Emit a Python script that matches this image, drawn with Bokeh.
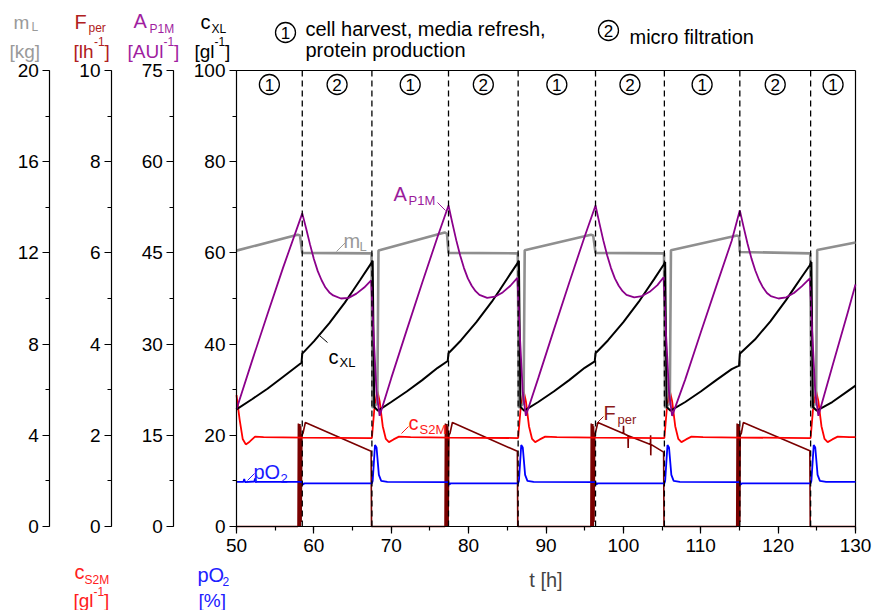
from bokeh.plotting import figure
from bokeh.models import Range1d, LinearAxis, SingleIntervalTicker, Label
from bokeh.embed import file_html
from bokeh.resources import INLINE
from bokeh.core.properties import value

FONT = "Liberation Sans"

# ---------------- data ----------------
filtration_start = [58.5, 77.4, 96.4, 115.05]   # end of phase 1
harvest = [67.5, 86.4, 105.3, 124.2]            # end of phase 2
phase_names = ["1", "2", "1", "2", "1", "2", "1", "2", "1"]
legend_names = ["1", "2"]
legend_texts = [["cell harvest, media refresh,", "protein production"], ["micro filtration"]]

# c_XL [g/l]
cxl_points = [(50.0, 25.7), (52.0, 27.9), (54.0, 30.2), (56.0, 32.8), (58.4, 35.9), (58.5, 37.9),
              (60.0, 40.6), (62.0, 44.6), (64.0, 49.1), (65.0, 51.6), (66.0, 54.1), (67.4, 57.7),
              (67.6, 58.3), (67.8, 26.2), (68.3, 25.4), (70.0, 27.3), (72.0, 29.6), (74.0, 32.1),
              (76.0, 34.8), (77.3, 36.3), (77.4, 38.0), (79.0, 40.8), (81.0, 44.8), (83.0, 49.3),
              (84.0, 51.8), (85.0, 54.4), (86.3, 57.7), (86.5, 58.3), (86.7, 26.2), (87.2, 25.4),
              (89.0, 27.3), (91.0, 29.6), (93.0, 32.1), (95.0, 34.8), (96.3, 36.2), (96.4, 38.0),
              (98.0, 40.8), (100.0, 44.8), (102.0, 49.3), (103.0, 51.8), (104.0, 54.3), (105.2, 57.4),
              (105.4, 58.0), (105.6, 26.2), (106.1, 25.4), (108.0, 27.3), (110.0, 29.6), (112.0, 32.1),
              (114.0, 34.5), (114.95, 35.3), (115.05, 37.9), (117.0, 41.0), (119.0, 45.0), (121.0, 49.6),
              (122.0, 52.1), (123.0, 54.6), (124.1, 57.3), (124.3, 58.0), (124.5, 26.2), (125.0, 25.4),
              (127.0, 27.3), (129.0, 29.7), (130.0, 30.9)]

# A_P1M [AU/l]
a_points = [(50.0, 19.3), (52.0, 27.2), (54.0, 34.9), (56.0, 42.5), (58.5, 51.5),
            (59.0, 49.0), (59.5, 46.4), (60.0, 44.0), (60.5, 42.0), (61.0, 40.5), (61.5, 39.3),
            (62.0, 38.5), (62.5, 38.0), (63.5, 37.5), (64.5, 37.6), (65.5, 38.3), (66.5, 39.3),
            (67.4, 40.5), (67.7, 32.0), (68.1, 22.0), (68.5, 18.2),
            (70.0, 24.4), (72.0, 32.3), (74.0, 40.1), (76.0, 47.7), (77.4, 52.8),
            (77.9, 49.9), (78.4, 47.1), (78.9, 44.6), (79.4, 42.5), (79.9, 40.8), (80.4, 39.6),
            (80.9, 38.7), (81.4, 38.1), (82.4, 37.6), (83.4, 37.8), (84.4, 38.5), (85.4, 39.6),
            (86.3, 40.9), (86.6, 32.0), (87.0, 22.0), (87.4, 18.2),
            (89.0, 24.4), (91.0, 32.3), (93.0, 40.1), (95.0, 47.7), (96.4, 52.8),
            (96.9, 49.9), (97.4, 47.1), (97.9, 44.6), (98.4, 42.5), (98.9, 40.8), (99.4, 39.6),
            (99.9, 38.7), (100.4, 38.1), (101.4, 37.7), (102.4, 37.9), (103.4, 38.6), (104.4, 39.7),
            (105.2, 41.0), (105.5, 32.0), (105.9, 22.0), (106.3, 18.2),
            (108.0, 24.2), (110.0, 31.9), (112.0, 39.5), (114.0, 47.0), (115.05, 52.0),
            (115.55, 49.2), (116.05, 46.5), (116.55, 44.1), (117.05, 42.1), (117.55, 40.5),
            (118.05, 39.3), (118.55, 38.4), (119.05, 37.9), (120.05, 37.5), (121.05, 37.7),
            (122.05, 38.4), (123.05, 39.5), (124.1, 40.8), (124.4, 32.0), (124.8, 22.0), (125.2, 18.2),
            (127.0, 26.3), (129.0, 35.2), (130.0, 39.8)]

# m_L [kg]
ml_points = [(50.0, 12.1), (57.9, 12.8), (58.2, 12.76), (58.5, 12.0), (67.45, 11.98), (67.6, 5.2),
             (68.2, 5.4), (68.35, 12.1), (76.9, 12.9), (77.2, 12.84), (77.4, 12.0), (86.35, 11.98),
             (86.5, 5.2), (87.1, 5.4), (87.25, 12.12), (95.8, 12.8), (96.1, 12.76), (96.4, 12.0),
             (105.25, 11.98), (105.4, 5.2), (106.0, 5.4), (106.15, 12.12), (114.7, 12.76),
             (114.95, 12.72), (115.05, 12.04), (124.15, 11.98), (124.3, 5.2), (124.9, 5.4),
             (125.05, 12.13), (130.0, 12.46)]

# c_S2M [g/l]
cs_points = [(50.0, 2.88), (50.4, 2.35), (50.8, 1.92), (51.2, 1.80), (51.7, 1.86), (52.4, 1.97),
             (53.5, 1.96), (58.5, 1.95), (67.5, 1.94), (67.8, 2.55), (68.2, 2.98), (68.5, 2.75),
             (68.9, 2.20), (69.3, 1.92), (69.7, 1.85), (70.3, 1.91), (71.0, 1.97), (72.5, 1.96),
             (77.4, 1.95), (86.4, 1.94), (86.7, 2.55), (87.1, 2.98), (87.4, 2.75), (87.8, 2.20),
             (88.2, 1.92), (88.6, 1.85), (89.2, 1.91), (89.9, 1.97), (91.4, 1.96), (96.4, 1.95),
             (105.3, 1.94), (105.6, 2.55), (106.0, 2.98), (106.3, 2.75), (106.7, 2.20), (107.1, 1.92),
             (107.5, 1.85), (108.1, 1.91), (108.8, 1.97), (110.3, 1.96), (115.05, 1.95), (124.2, 1.94),
             (124.5, 2.55), (124.9, 2.98), (125.2, 2.75), (125.6, 2.20), (126.0, 1.92), (126.4, 1.85),
             (127.0, 1.91), (127.7, 1.97), (129.2, 1.96), (130.0, 1.96)]

# pO2 [%]
po2_points = [(50.0, 7.35), (50.9, 7.35), (51.0, 7.8), (51.1, 7.3), (52.3, 7.4), (52.4, 7.9),
              (52.5, 7.35), (58.45, 7.35), (58.6, 6.9), (58.8, 7.1), (67.5, 7.1), (67.6, 7.5),
              (67.9, 13.4), (68.1, 13.0), (68.4, 8.5), (68.7, 7.5), (69.5, 7.35), (77.4, 7.3),
              (77.5, 6.9), (77.7, 7.1), (86.4, 7.1), (86.5, 7.5), (86.8, 13.4), (87.0, 13.0),
              (87.3, 8.5), (87.6, 7.5), (88.4, 7.35), (96.4, 7.3), (96.5, 6.9), (96.7, 7.1),
              (105.3, 7.1), (105.4, 7.5), (105.7, 13.4), (105.9, 13.0), (106.2, 8.5), (106.5, 7.5),
              (107.3, 7.35), (115.05, 7.3), (115.15, 6.9), (115.35, 7.1), (124.2, 7.1), (124.3, 7.5),
              (124.6, 13.4), (124.8, 13.0), (125.1, 8.5), (125.4, 7.5), (126.2, 7.35), (130.0, 7.35)]

# F_per [l/h]
f_points = [(50.0, 0.0), (57.95, 0.0), (58.0, 2.26), (58.05, 0.0), (58.1, 2.22), (58.15, 0.0),
            (58.2, 2.25), (58.25, 0.0), (58.3, 2.20), (58.35, 0.1), (58.45, 2.0), (58.6, 2.05),
            (58.9, 2.28), (67.4, 1.65), (67.45, 0.0), (76.95, 0.0), (77.0, 2.26), (77.05, 0.0),
            (77.1, 2.22), (77.15, 0.0), (77.2, 2.25), (77.25, 0.0), (77.3, 2.20), (77.35, 0.1),
            (77.45, 2.0), (77.6, 2.05), (77.9, 2.28), (86.3, 1.65), (86.35, 0.0), (95.8, 0.0),
            (95.85, 2.26), (95.9, 0.0), (95.95, 2.22), (96.0, 0.0), (96.05, 2.25), (96.1, 0.0),
            (96.15, 2.20), (96.2, 0.1), (96.3, 2.0), (96.45, 2.1), (96.7, 2.28), (100.0, 2.04),
            (100.02, 2.21), (100.04, 2.04), (100.6, 1.99), (100.62, 1.72), (100.64, 1.99),
            (103.5, 1.80), (103.52, 2.0), (103.54, 1.56), (103.56, 1.80), (105.2, 1.63),
            (105.25, 0.0), (114.65, 0.0), (114.7, 2.26), (114.75, 0.0), (114.8, 2.22), (114.85, 0.0),
            (114.9, 2.25), (114.95, 0.0), (115.0, 2.20), (115.05, 0.1), (115.1, 2.0), (115.25, 2.05),
            (115.5, 2.28), (124.1, 1.66), (124.15, 0.0), (130.0, 0.0)]

# axis ranges / tick intervals
t_range = (50, 130)
cxl_range, cxl_step = (0, 100), 20
ml_range, ml_step = (0, 20), 4
f_range, f_step = (0, 10), 2
a_range, a_step = (0, 75), 15
t_step = 10

# ---------------- geometry (page pixels) ----------------
W, H = 873, 610
FX0, FX1, FY0, FY1 = 236, 855, 526, 70   # data area left/right/bottom/top
AXIS_PX = {"mL": 49.3, "F": 111.0, "A": 173.3}


def tx(px):
    return t_range[0] + (px - FX0) * (t_range[1] - t_range[0]) / (FX1 - FX0)


def cy(py):
    return cxl_range[0] + (FY0 - py) * (cxl_range[1] - cxl_range[0]) / (FY0 - FY1)


def scaled(rng):
    k = rng[1] / cxl_range[1]
    return Range1d(cy(H) * k, cy(0) * k)


p = figure(width=W, height=H, x_range=Range1d(tx(0), tx(W)), y_range=Range1d(cy(H), cy(0)),
           output_backend="svg", toolbar_location=None, min_border=0)
p.extra_y_ranges = {"mL": scaled(ml_range), "F": scaled(f_range), "A": scaled(a_range)}
p.grid.visible = False
p.outline_line_color = None
p.background_fill_color = "white"
p.border_fill_color = "white"


def style_axis(ax, step, bounds):
    ax.ticker = SingleIntervalTicker(interval=step, num_minor_ticks=2)
    ax.bounds = bounds
    ax.major_tick_out = 7
    ax.major_tick_in = 0
    ax.minor_tick_out = 4
    ax.minor_tick_in = 0
    ax.axis_line_color = "black"
    ax.axis_line_width = 1.2
    ax.major_tick_line_color = "black"
    ax.major_tick_line_width = 1.2
    ax.minor_tick_line_color = "black"
    ax.minor_tick_line_width = 1.2
    ax.major_label_text_font = FONT
    ax.major_label_text_font_size = "19px"
    ax.major_label_text_color = "black"
    ax.major_label_standoff = 4


yc_ax = p.yaxis[0]
style_axis(yc_ax, cxl_step, cxl_range)
yc_ax.fixed_location = t_range[0]
for name, rng, step in [("A", a_range, a_step), ("F", f_range, f_step), ("mL", ml_range, ml_step)]:
    ax = LinearAxis(y_range_name=name)
    style_axis(ax, step, rng)
    ax.fixed_location = tx(AXIS_PX[name])
    p.add_layout(ax, "left")

xa = p.xaxis[0]
style_axis(xa, t_step, t_range)
xa.fixed_location = cxl_range[0]
xa.major_label_standoff = 5
xa.axis_label = "t [h]"
xa.axis_label_text_font = FONT
xa.axis_label_text_font_size = "20px"
xa.axis_label_text_font_style = "normal"
xa.axis_label_standoff = 14

# frame lines: top and right
p.segment(x0=[t_range[0], t_range[1]], y0=[cxl_range[1], cxl_range[0]],
          x1=[t_range[1], t_range[1]], y1=[cxl_range[1], cxl_range[1]],
          line_color="black", line_width=1.2)

# ---------------- data lines ----------------
def unzip(pts):
    return [a for a, _ in pts], [b for _, b in pts]


tf, vf = unzip(f_points)
p.line(tf, vf, line_color="#7a0000", line_width=1.6, y_range_name="F")
tp, vp = unzip(po2_points)
p.line(tp, vp, line_color="#0000ff", line_width=1.8, y_range_name="A")
ts, vs = unzip(cs_points)
p.line(ts, vs, line_color="#ff0000", line_width=1.8, y_range_name="F")
tm, vm = unzip(ml_points)
p.line(tm, vm, line_color="#8f8f8f", line_width=2.6, y_range_name="mL")
tc, vc = unzip(cxl_points)
p.line(tc, vc, line_color="black", line_width=2.0)
ta, va = unzip(a_points)
p.line(ta, va, line_color="#8b008b", line_width=1.8, y_range_name="A")

# phase boundaries
bounds = sorted(filtration_start + harvest)
p.segment(x0=bounds, y0=[cxl_range[0]] * len(bounds), x1=bounds, y1=[cxl_range[1]] * len(bounds),
          line_color="black", line_width=1.3, line_dash="6 4")

# circled phase numbers: centre of each phase, plus the two legend entries above the plot
edges = [t_range[0]] + bounds + [t_range[1]]
centers = [(edges[i] + edges[i + 1]) / 2 for i in range(len(edges) - 1)]
circ_x = centers + [tx(285), tx(608)]
circ_y = [cy(84)] * len(centers) + [cy(32), cy(30)]
circ_t = phase_names + legend_names
p.scatter(circ_x, circ_y, marker="circle", size=20, fill_color="white", line_color="black", line_width=1.3)
p.text(circ_x, circ_y, text=circ_t, text_font=value(FONT), text_font_size="17px",
       text_align="center", text_baseline="middle", text_color="black")


# ---------------- texts ----------------
def lab(px, py, txt, size, color, **kw):
    p.add_layout(Label(x=tx(px), y=cy(py), text=txt, text_font=FONT, text_font_size=f"{size}px",
                       text_color=color, text_baseline="alphabetic", text_align="left", **kw))


def leader(px0, py0, px1, py1, color):
    p.segment(x0=[tx(px0)], y0=[cy(py0)], x1=[tx(px1)], y1=[cy(py1)], line_color=color, line_width=1.0)


# axis titles above the left axes
GRAY_T, F_T, A_T = "#9a9a9a", "#b02020", "#a01ea0"
lab(13, 22, "m", 19, GRAY_T); lab(31, 26, "L", 12, GRAY_T); lab(9, 51, "[kg]", 19, GRAY_T)
lab(74, 21, "F", 20, F_T); lab(88, 27, "per", 12, F_T)
lab(73, 51, "[lh", 19, F_T); lab(93.5, 41, "-1", 12, F_T); lab(104, 51, "]", 19, F_T)
lab(133, 20, "A", 20, A_T); lab(149, 28, "P1M", 12, A_T)
lab(127, 51, "[AUl", 19, A_T); lab(163, 41, "-1", 12, A_T); lab(173.5, 51, "]", 19, A_T)
lab(200, 21, "c", 20, "black"); lab(211, 28, "XL", 12, "black")
lab(194, 51, "[gl", 19, "black"); lab(214, 41, "-1", 12, "black"); lab(224.5, 51, "]", 19, "black")

# axis titles below
CS_T, PO_T = "#ff2020", "#2020ff"
lab(74, 571, "c", 20, CS_T); lab(84, 579, "S2M", 12, CS_T)
lab(73, 600, "[gl", 19, CS_T); lab(93, 591, "-1", 12, CS_T); lab(103.5, 600, "]", 19, CS_T)
lab(197, 574, "pO", 20, PO_T); lab(222, 581, "2", 12, PO_T)
lab(198, 600, "[%]", 19, PO_T)

# legend texts
lab(305, 28, legend_texts[0][0], 20, "black")
lab(305, 49, legend_texts[0][1], 20, "black")
lab(629, 36, legend_texts[1][0], 20, "black")

# in-plot series labels
lab(393, 193, "A", 20, "#9b1b9b"); lab(408, 200, "P1M", 13, "#9b1b9b"); leader(437, 202, 445, 210, "#9b1b9b")
lab(343, 240, "m", 20, "#999999"); lab(359, 246, "L", 13, "#999999"); leader(345, 242, 336, 251, "#999999")
lab(328, 356, "c", 20, "black"); lab(339, 362, "XL", 13, "black"); leader(327, 342, 319, 335, "black")
lab(408, 422, "c", 20, "#ff1a1a"); lab(419, 429, "S2M", 13, "#ff1a1a"); leader(408, 426, 401, 433, "#ff1a1a")
lab(603, 412, "F", 20, "#8b1a1a"); lab(617, 419, "per", 13, "#8b1a1a"); leader(603, 416, 596, 423, "#8b1a1a")
lab(253, 471, "pO", 20, "#1a1aff"); lab(280, 478, "2", 13, "#1a1aff"); leader(254, 473, 247, 480, "#1a1aff")

open("out.html", "w").write(file_html(p, INLINE))
